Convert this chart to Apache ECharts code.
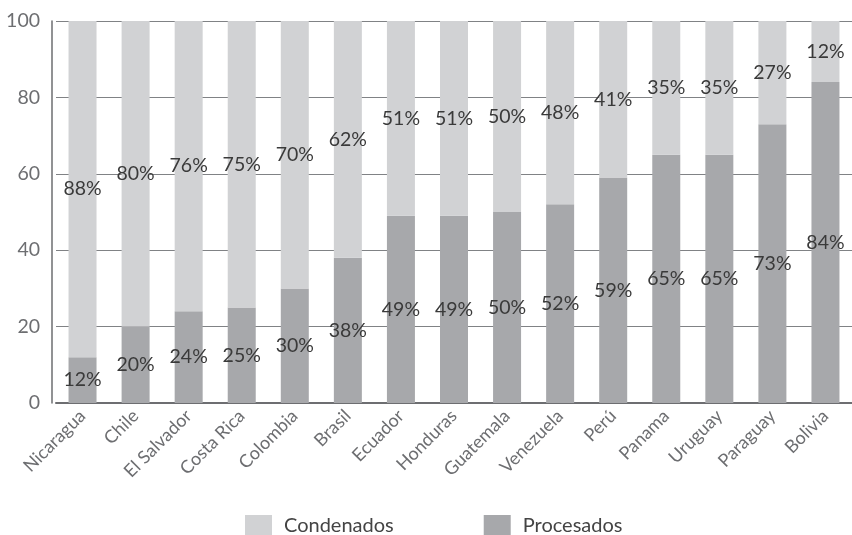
<!DOCTYPE html>
<html>
<head>
<meta charset="utf-8">
<script src="https://cdn.jsdelivr.net/npm/echarts@6/dist/echarts.min.js"></script>
<style>
  html, body { margin: 0; padding: 0; background: #fff; }
  #chart { width: 852px; height: 535px; }
</style>
</head>
<body>
<div id="chart"></div>
<script>
const countries = ["Nicaragua", "Chile", "El Salvador", "Costa Rica", "Colombia", "Brasil", "Ecuador",
  "Honduras", "Guatemala", "Venezuela", "Perú", "Panama", "Uruguay", "Paraguay", "Bolivia"];
const procesados = [12, 20, 24, 25, 30, 38, 49, 49, 50, 52, 59, 65, 65, 73, 84];
// bar heights as drawn (Bolivia's light segment reaches 100 although it is labelled 12%)
const condenados = [88, 80, 76, 75, 70, 62, 51, 51, 50, 48, 41, 35, 35, 27, 16];
const condenadosLabels = ["88%", "80%", "76%", "75%", "70%", "62%", "51%", "51%", "50%", "48%",
  "41%", "35%", "35%", "27%", "12%"];
const yTicks = [0, 20, 40, 60, 80, 100];

const FONT = "Lato";
const chart = echarts.init(document.getElementById("chart"));

const labelBase = {
  show: true,
  position: "inside",
  color: "#3a3a3a",
  fontSize: 19.5,
  fontFamily: FONT
};

chart.setOption({
  animation: false,
  grid: { left: 56, right: -6, top: 21, bottom: 132, containLabel: false },
  legend: {
    left: 240,
    top: 510,
    itemWidth: 27,
    itemHeight: 21,
    itemGap: 90,
    icon: "rect",
    textStyle: { color: "#444", fontSize: 20, fontFamily: FONT, padding: [0, 0, 0, 7] },
    data: ["Condenados", "Procesados"]
  },
  xAxis: {
    type: "category",
    data: countries,
    axisLine: { lineStyle: { color: "#6d6e71", width: 2 } },
    axisTick: { show: false },
    axisLabel: {
      rotate: 45,
      margin: 10,
      color: "#6d6e71",
      fontSize: 18,
      fontFamily: FONT
    }
  },
  yAxis: {
    type: "value",
    min: yTicks[0],
    max: yTicks[yTicks.length - 1],
    interval: 20,
    offset: 4,
    axisLine: { show: true, lineStyle: { color: "#6d6e71", width: 1.5 } },
    axisTick: { show: false },
    axisLabel: {
      color: "#6d6e71",
      fontSize: 19.5,
      fontFamily: FONT,
      margin: 12
    },
    splitLine: { lineStyle: { color: "#808285", width: 1.2 } }
  },
  series: [
    {
      name: "Procesados",
      type: "bar",
      stack: "total",
      barWidth: 28,
      data: procesados,
      itemStyle: { color: "#a7a8ab" },
      label: Object.assign({}, labelBase, { formatter: (p) => p.value + "%" })
    },
    {
      name: "Condenados",
      type: "bar",
      stack: "total",
      barWidth: 28,
      data: condenados,
      itemStyle: { color: "#d1d2d4" },
      label: Object.assign({}, labelBase, { formatter: (p) => condenadosLabels[p.dataIndex] })
    }
  ]
});
</script>
</body>
</html>
